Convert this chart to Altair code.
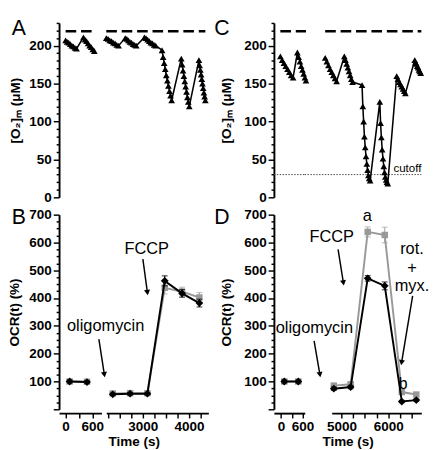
import altair as alt
import pandas as pd

FONT = "Liberation Sans"

# ---------------- values ----------------
ATM_O2 = 219      # dashed reference level, uM
CUTOFF_O2 = 30    # dotted cutoff level, uM

# Panel A: O2 trace, first and second time segment (s, uM)
A1_T = [0, 35, 70, 105, 140, 175, 210, 245,
        400, 435, 470, 505, 540, 575, 610, 645]
A1_O2 = [207, 205, 204, 202, 200, 199, 197, 196,
         211, 208, 206, 203, 200, 198, 195, 193]
A2_T = [2210, 2248, 2286, 2324, 2362, 2400, 2438, 2476,
        2620, 2654, 2688, 2722, 2756, 2790, 2824, 2858,
        3035, 3070, 3105, 3140, 3175, 3210, 3245, 3280,
        3417, 3440, 3463, 3486, 3509, 3532, 3555, 3578, 3601, 3625,
        3833, 3852, 3871, 3890, 3909, 3928, 3947, 3966, 3985, 4006,
        4215, 4230, 4246, 4262, 4277, 4292, 4308, 4323, 4338, 4354]
A2_O2 = [210, 209, 207, 206, 204, 203, 201, 200,
         210, 209, 207, 205, 204, 202, 201, 200,
         211, 210, 208, 206, 204, 203, 201, 200,
         194, 185, 177, 169, 161, 154, 147, 140, 134, 128,
         183, 175, 167, 160, 153, 146, 139, 132, 126, 120,
         181, 174, 168, 162, 156, 150, 144, 138, 133, 128]

# Panel C: O2 trace
C1_T = [-20, 30, 80, 130, 180, 230, 280, 335,
        455, 490, 525, 560, 595, 630, 665, 695]
C1_O2 = [186, 181, 177, 173, 169, 165, 161, 158,
         191, 185, 179, 173, 168, 163, 158, 154]
C2_T = [4650, 4685, 4720, 4755, 4790, 4825, 4860, 4895,
        5060, 5085, 5110, 5135, 5160, 5185, 5210, 5235,
        5439, 5456, 5473, 5490, 5507, 5524, 5541, 5558, 5575, 5592, 5612,
        5819, 5836, 5853, 5870, 5887, 5904, 5921, 5938, 5955, 5972, 5990,
        6181, 6208, 6235, 6262, 6289, 6316, 6343, 6367,
        6567, 6585, 6603, 6621, 6639, 6657, 6675, 6695]
C2_O2 = [184, 179, 174, 169, 165, 161, 157, 153,
         186, 181, 176, 171, 166, 161, 156, 152,
         148, 120, 100, 80, 66, 54, 44, 36, 29, 25, 22,
         126, 98, 79, 63, 51, 41, 33, 27, 23, 20, 18,
         160, 156, 152, 149, 146, 143, 140, 137,
         181, 178, 176, 173, 171, 168, 166, 164]

# OCR(t) in % of baseline (black = diamonds, grey = squares)
OCR_T1 = [90, 480]
B_BLACK1 = [100, 98]
B_BLACK1_ERR = [5, 4]
B_GREY1 = [100, 99]
B_GREY1_ERR = [5, 5]
B_T2 = [2350, 2725, 3100, 3475, 3850, 4225]
B_BLACK2 = [54, 56, 56, 462, 417, 382]
B_BLACK2_ERR = [4, 4, 4, 18, 14, 14]
B_GREY2 = [57, 58, 58, 437, 423, 402]
B_GREY2_ERR = [5, 5, 5, 22, 16, 18]

D_BLACK1 = [100, 100]
D_BLACK1_ERR = [5, 5]
D_GREY1 = [100, 100]
D_GREY1_ERR = [5, 5]
D_T2 = [4835, 5195, 5560, 5925, 6290, 6600]
D_BLACK2 = [74, 80, 471, 444, 28, 33]
D_BLACK2_ERR = [6, 6, 10, 14, 4, 4]
D_GREY2 = [85, 90, 638, 627, 62, 53]
D_GREY2_ERR = [8, 8, 18, 28, 8, 6]

# ---------------- layout helpers ----------------
SEG_AB1 = dict(domain=[-147, 805], width=44)
SEG_AB2 = dict(domain=[2210, 4420], width=106)
SEG_CD1 = dict(domain=[-200, 660], width=32)
SEG_CD2 = dict(domain=[4790, 6708], width=93)
O2_DOM = [0, 230]
OCR_DOM = [0, 700]
H_TOP = 181
H_BOT = 202


def sc(dom):
    return alt.Scale(domain=dom, nice=False, zero=False)


def x_axis(ticks, labels, title=None, title_x=None):
    kw = dict(values=ticks, format="d",
              labelExpr=f"indexof({labels}, datum.value) >= 0 ? datum.label : ''",
              tickSize=5, offset=4, labelPadding=2, labelFlush=False,
              labelOverlap=False, title=title)
    if title_x is not None:
        kw.update(titleX=title_x, titleAlign="center", titlePadding=2)
    return alt.Axis(**kw)


def y_axis(maxv, minor, major, title, title_x, zero_label):
    cond = f"datum.value % {major} === 0"
    lab = cond if zero_label else f"({cond}) && datum.value > 0"
    return alt.Axis(values=list(range(0, maxv + 1, minor)), format="d",
                    labelExpr=f"{lab} ? datum.label : ''",
                    tickSize={"condition": {"test": cond, "value": 6}, "value": 3},
                    labelPadding=2, labelOverlap=False, title=title,
                    titleX=title_x)


class Panel:
    def __init__(self, seg, ydom, xax, yax):
        self.seg, self.ydom, self.xax, self.yax = seg, ydom, xax, yax

    def X(self, f):
        return alt.X(f"{f}:Q", scale=sc(self.seg["domain"]), axis=self.xax)

    def Y(self, f):
        return alt.Y(f"{f}:Q", scale=sc(self.ydom), axis=self.yax)


def o2_layers(p, T, V):
    df = pd.DataFrame({"t": T, "v": V})
    line = alt.Chart(df).mark_line(color="black", strokeWidth=1.6).encode(x=p.X("t"), y=p.Y("v"))
    pts = alt.Chart(df).mark_point(shape="triangle-up", filled=True, size=48,
                                   color="black", opacity=1).encode(x=p.X("t"), y=p.Y("v"))
    return [line, pts]


def hline(p, t0, t1, level, dash, width, color):
    df = pd.DataFrame({"t0": [t0], "t1": [t1], "v": [level]})
    return alt.Chart(df).mark_rule(strokeDash=dash, strokeWidth=width, color=color).encode(
        x=p.X("t0"), x2=alt.X2("t1"), y=p.Y("v"))


def ocr_layers(p, T, V, E, color, shape, size, ecolor):
    df = pd.DataFrame({"t": T, "v": V, "lo": [a - b for a, b in zip(V, E)],
                       "hi": [a + b for a, b in zip(V, E)]})
    bar = alt.Chart(df).mark_rule(color=ecolor, strokeWidth=1.2).encode(
        x=p.X("t"), y=p.Y("lo"), y2=alt.Y2("hi"))
    cap_hi = alt.Chart(df).mark_tick(orient="horizontal", size=6, thickness=1.2,
                                     color=ecolor).encode(x=p.X("t"), y=p.Y("hi"))
    cap_lo = alt.Chart(df).mark_tick(orient="horizontal", size=6, thickness=1.2,
                                     color=ecolor).encode(x=p.X("t"), y=p.Y("lo"))
    line = alt.Chart(df).mark_line(color=color, strokeWidth=2).encode(x=p.X("t"), y=p.Y("v"))
    pts = alt.Chart(df).mark_point(shape=shape, filled=True, size=size, color=color,
                                   opacity=1).encode(x=p.X("t"), y=p.Y("v"))
    return [bar, cap_hi, cap_lo, line, pts]


def texts(p, rows, size=17, align="center"):
    df = pd.DataFrame(rows, columns=["t", "v", "label"])
    return alt.Chart(df).mark_text(font=FONT, fontSize=size, align=align, baseline="middle",
                                   color="black").encode(x=p.X("t"), y=p.Y("v"), text="label:N")


def arrows(p, rows):
    df = pd.DataFrame(rows, columns=["x0", "y0", "x1", "y1", "ang"])
    rule = alt.Chart(df).mark_rule(color="black", strokeWidth=1.5).encode(
        x=p.X("x0"), y=p.Y("y0"), x2=alt.X2("x1"), y2=alt.Y2("y1"))
    head = alt.Chart(df).mark_point(shape="triangle-down", filled=True, size=40, color="black",
                                    opacity=1).encode(
        x=p.X("x1"), y=p.Y("y1"), angle=alt.Angle("ang:Q", scale=None))
    return [rule, head]


def letter(ch, lx, ly):
    return alt.Chart(pd.DataFrame({"label": [ch]})).mark_text(
        font=FONT, fontSize=22, align="left", baseline="middle", color="black").encode(
        x=alt.value(lx), y=alt.value(ly), text="label:N")


def spacer(w):
    return alt.Chart(pd.DataFrame({"v": [0]})).mark_point(opacity=0).encode(
        x=alt.X("v:Q", axis=None), y=alt.Y("v:Q", axis=None)).properties(width=w, height=10)


O2_TITLE = "[O₂]ₘ (μM)"
OCR_TITLE = "OCR(t) (%)"

# ---------------- panel A ----------------
pA1 = Panel(SEG_AB1, O2_DOM, None, y_axis(230, 10, 50, O2_TITLE, -38, True))
A1 = alt.layer(
    hline(pA1, A1_T[0], A1_T[-1], ATM_O2, [11, 5], 2.5, "black"),
    *o2_layers(pA1, A1_T, A1_O2),
    letter("A", -49, 6),
).properties(width=SEG_AB1["width"], height=H_TOP)

pA2 = Panel(SEG_AB2, O2_DOM, None, None)
A2 = alt.layer(
    hline(pA2, A2_T[0], A2_T[-1], ATM_O2, [11, 5], 2.5, "black"),
    *o2_layers(pA2, A2_T, A2_O2),
).properties(width=SEG_AB2["width"], height=H_TOP)

# ---------------- panel C ----------------
pC1 = Panel(SEG_CD1, O2_DOM, None, y_axis(230, 10, 50, O2_TITLE, -42, True))
C1 = alt.layer(
    hline(pC1, SEG_CD1["domain"][0], SEG_CD1["domain"][1], CUTOFF_O2, [1.5, 1.5], 1, "#444444"),
    hline(pC1, C1_T[0], C1_T[-1], ATM_O2, [11, 5], 2.5, "black"),
    *o2_layers(pC1, C1_T, C1_O2),
    letter("C", -62, 5),
).properties(width=SEG_CD1["width"], height=H_TOP)

pC2 = Panel(SEG_CD2, O2_DOM, None, None)
C2 = alt.layer(
    hline(pC2, 4210, SEG_CD2["domain"][1], CUTOFF_O2, [1.5, 1.5], 1, "#444444"),
    hline(pC2, C2_T[0], SEG_CD2["domain"][1], ATM_O2, [11, 5], 2.5, "black"),
    *o2_layers(pC2, C2_T, C2_O2),
    texts(pC2, [(6110, 38, "cutoff")], size=12, align="left"),
).properties(width=SEG_CD2["width"], height=H_TOP)

# ---------------- panel B ----------------
pB1 = Panel(SEG_AB1, OCR_DOM, x_axis([0, 300, 600], [0, 600]),
            y_axis(700, 25, 100, OCR_TITLE, -39, False))
B1 = alt.layer(
    *ocr_layers(pB1, OCR_T1, B_GREY1, B_GREY1_ERR, "#999999", "square", 45, "#aaaaaa"),
    *ocr_layers(pB1, OCR_T1, B_BLACK1, B_BLACK1_ERR, "black", "diamond", 65, "black"),
    texts(pB1, [(30, 300, "oligomycin")], align="left"),
    *arrows(pB1, [(747, 252, 870, 125, 351)]),
    letter("B", -49, 3),
).properties(width=SEG_AB1["width"], height=H_BOT)

pB2 = Panel(SEG_AB2, OCR_DOM,
            x_axis(list(range(2250, 4251, 250)), [3000, 4000], "Time (s)", 28.5), None)
B2 = alt.layer(
    *ocr_layers(pB2, B_T2, B_GREY2, B_GREY2_ERR, "#999999", "square", 45, "#aaaaaa"),
    *ocr_layers(pB2, B_T2, B_BLACK2, B_BLACK2_ERR, "black", "diamond", 65, "black"),
    texts(pB2, [(3086, 575, "FCCP")]),
    *arrows(pB2, [(3002, 540, 3100, 420, 352)]),
).properties(width=SEG_AB2["width"], height=H_BOT)

# ---------------- panel D ----------------
pD1 = Panel(SEG_CD1, OCR_DOM, x_axis([0, 300, 600], [0, 600]),
            y_axis(700, 25, 100, OCR_TITLE, -42, False))
D1 = alt.layer(
    *ocr_layers(pD1, OCR_T1, D_GREY1, D_GREY1_ERR, "#999999", "square", 45, "#aaaaaa"),
    *ocr_layers(pD1, OCR_T1, D_BLACK1, D_BLACK1_ERR, "black", "diamond", 65, "black"),
    texts(pD1, [(-150, 292, "oligomycin")], align="left"),
    *arrows(pD1, [(921, 246, 1083, 125, 351)]),
    letter("D", -62, 3),
).properties(width=SEG_CD1["width"], height=H_BOT)

pD2 = Panel(SEG_CD2, OCR_DOM,
            x_axis(list(range(5000, 6501, 250)), [5000, 6000], "Time (s)", 16.5), None)
D2 = alt.layer(
    *ocr_layers(pD2, D_T2, D_GREY2, D_GREY2_ERR, "#999999", "square", 45, "#aaaaaa"),
    *ocr_layers(pD2, D_T2, D_BLACK2, D_BLACK2_ERR, "black", "diamond", 65, "black"),
    texts(pD2, [(4790, 620, "FCCP"), (5553, 693, "a"), (6316, 91, "b"),
                (6507, 576, "rot."), (6507, 508, "+"), (6507, 442, "myx.")]),
    *arrows(pD2, [(4926, 575, 5040, 455, 351), (6522, 408, 6285, 168, 9)]),
).properties(width=SEG_CD2["width"], height=H_BOT)

chart = alt.concat(
    A1, A2, spacer(58), C1, spacer(18), C2,
    B1, B2, spacer(58), D1, spacer(18), D2,
    columns=6, spacing={"row": 18, "column": 5}, bounds="flush", align="each",
).properties(padding=0).configure_view(stroke=None).configure_axis(
    labelFont=FONT, titleFont=FONT, labelFontWeight="bold", titleFontWeight="bold",
    labelFontSize=14, titleFontSize=14, labelColor="black", titleColor="black",
    domainColor="black", tickColor="black", domainWidth=2, tickWidth=1.5, grid=False,
)

chart.save("out.html", embed_options={"renderer": "svg", "actions": False})
